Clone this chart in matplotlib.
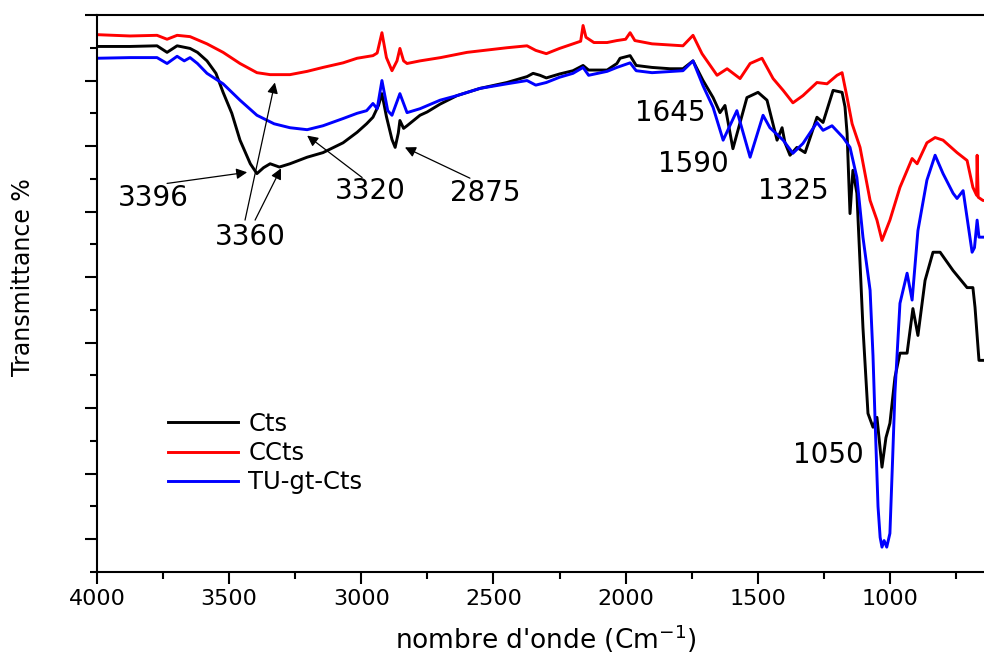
import matplotlib.pyplot as plt
from matplotlib.ticker import MultipleLocator

# nombre d'onde (cm-1) et transmittance (u.a.)
wn_cts = [4000, 3875, 3773, 3735, 3697, 3648, 3620, 3584, 3550, 3523, 3490, 3459,
          3420, 3395, 3370, 3345, 3310, 3270, 3205, 3145, 3069, 3016, 2980, 2956,
          2935, 2922, 2905, 2884, 2872, 2860, 2854, 2840, 2827, 2778, 2751, 2702,
          2638, 2551, 2449, 2373, 2350, 2324, 2300, 2250, 2199, 2161, 2140, 2070,
          2033, 2021, 1983, 1960, 1900, 1832, 1783, 1745, 1707, 1669, 1643, 1624,
          1594, 1575, 1541, 1499, 1465, 1427, 1408, 1397, 1378, 1352, 1321, 1300,
          1276, 1253, 1215, 1181, 1170, 1162, 1151, 1140, 1125, 1102, 1083, 1064,
          1049, 1030, 1015, 1000, 981, 962, 935, 913, 894, 867, 837, 810, 761, 708,
          686, 678, 663, 648, 640]
t_cts = [85.2, 85.2, 85.3, 84.3, 85.3, 84.9, 84.3, 83.0, 81.1, 78.2, 75.0, 70.9,
         67.3, 65.8, 66.7, 67.3, 66.8, 67.3, 68.3, 69.0, 70.5, 72.1, 73.4, 74.4,
         76.2, 78.0, 74.5, 71.0, 69.8, 72.0, 73.9, 72.7, 73.1, 74.7, 75.2, 76.4,
         77.7, 78.8, 79.7, 80.6, 81.1, 80.8, 80.4, 81.0, 81.5, 82.3, 81.6, 81.6,
         82.6, 83.4, 83.8, 82.3, 82.0, 81.8, 81.8, 83.0, 80.0, 77.4, 75.1, 76.2,
         69.6, 72.4, 77.4, 78.2, 77.0, 70.9, 72.8, 70.5, 68.6, 69.8, 69.0, 71.5,
         74.4, 73.6, 78.5, 78.2, 76.0, 71.9, 59.7, 66.3, 62.8, 42.3, 29.2, 27.1,
         28.6, 21.0, 25.5, 27.7, 34.7, 38.4, 38.4, 45.2, 41.1, 49.5, 53.8, 53.8,
         51.0, 48.4, 48.4, 45.4, 37.3, 37.3, 37.3]

wn_ccts = [4000, 3875, 3773, 3735, 3697, 3648, 3584, 3523, 3459, 3395, 3345, 3270,
           3205, 3145, 3069, 3016, 2956, 2940, 2922, 2905, 2884, 2865, 2854, 2840,
           2827, 2778, 2700, 2600, 2450, 2373, 2340, 2300, 2250, 2199, 2170, 2161,
           2150, 2120, 2070, 2033, 2000, 1983, 1965, 1900, 1783, 1745, 1711, 1654,
           1616, 1567, 1529, 1484, 1442, 1404, 1367, 1329, 1276, 1238, 1200, 1181,
           1162, 1143, 1113, 1075, 1049, 1030, 1000, 962, 916, 897, 860, 829, 799,
           746, 708, 686, 672, 670, 666, 648, 640]
t_ccts = [87.0, 86.8, 86.9, 86.3, 86.9, 86.7, 85.6, 84.3, 82.6, 81.2, 80.9, 80.9,
          81.4, 82.0, 82.7, 83.4, 83.8, 84.2, 87.3, 83.5, 81.5, 83.0, 84.9, 83.0,
          82.6, 83.0, 83.5, 84.3, 85.0, 85.3, 84.6, 84.1, 84.9, 85.6, 86.0, 88.4,
          86.6, 85.8, 85.8, 86.1, 86.3, 87.3, 86.1, 85.6, 85.3, 86.9, 84.1, 80.8,
          81.8, 80.3, 82.6, 83.4, 80.3, 78.5, 76.6, 77.7, 79.7, 79.5, 80.8, 81.2,
          77.4, 73.4, 69.8, 61.7, 58.7, 55.6, 58.7, 63.7, 68.1, 67.3, 70.5, 71.3,
          70.9, 69.0, 67.8, 63.7, 62.5, 68.6, 62.2, 61.7, 61.7]

wn_tu = [4000, 3875, 3773, 3735, 3697, 3670, 3648, 3620, 3584, 3523, 3459, 3395,
         3330, 3270, 3205, 3145, 3069, 3016, 2980, 2956, 2940, 2922, 2900, 2884,
         2854, 2827, 2778, 2702, 2638, 2551, 2449, 2373, 2340, 2300, 2250, 2199,
         2161, 2140, 2070, 2033, 1983, 1960, 1900, 1783, 1745, 1707, 1669, 1631,
         1579, 1529, 1480, 1454, 1404, 1367, 1329, 1276, 1253, 1219, 1177, 1151,
         1125, 1102, 1075, 1064, 1056, 1045, 1037, 1030, 1022, 1012, 1000, 990,
         981, 962, 935, 916, 894, 860, 829, 799, 761, 746, 723, 689, 680, 670,
         663, 648, 640]
t_tu = [83.4, 83.5, 83.5, 82.6, 83.7, 83.0, 83.5, 82.6, 81.1, 79.5, 77.0, 74.7,
        73.4, 72.8, 72.5, 73.1, 74.2, 75.0, 75.4, 76.5, 75.7, 80.0, 75.4, 74.7,
        78.0, 75.1, 75.7, 77.0, 77.7, 78.8, 79.5, 80.0, 79.3, 79.7, 80.5, 81.1,
        82.0, 80.8, 81.4, 82.0, 82.7, 81.5, 81.2, 81.5, 83.0, 79.2, 75.9, 70.9,
        75.4, 68.3, 74.7, 72.8, 70.9, 68.9, 70.4, 73.6, 72.4, 73.1, 71.3, 69.8,
        65.2, 56.1, 48.0, 38.0, 28.0, 15.0, 10.3, 8.8, 9.8, 8.8, 10.9, 22.0,
        32.3, 46.0, 50.6, 46.5, 57.1, 64.8, 68.6, 65.8, 62.8, 62.0, 63.2, 53.8,
        54.5, 58.7, 56.1, 56.1, 56.1]

fig = plt.figure(figsize=(9.84, 6.61), dpi=100)
ax = fig.add_axes([0.0986, 0.1346, 0.9014, 0.8427])

ax.plot(wn_cts, t_cts, color='black', lw=2.1, label='Cts')
ax.plot(wn_ccts, t_ccts, color='red', lw=2.1, label='CCts')
ax.plot(wn_tu, t_tu, color='blue', lw=2.1, label='TU-gt-Cts')

ax.set_xlim(4000, 644)
ax.set_ylim(5, 90)

# axes style Origin
ax.spines['right'].set_visible(False)
for s in ['left', 'bottom', 'top']:
    ax.spines[s].set_linewidth(1.5)
ax.xaxis.set_major_locator(MultipleLocator(500))
ax.xaxis.set_minor_locator(MultipleLocator(250))
ax.yaxis.set_major_locator(MultipleLocator(10))
ax.yaxis.set_minor_locator(MultipleLocator(5))
ax.tick_params(which='both', direction='out', width=1.5, top=False, right=False)
ax.tick_params(which='major', length=8.5)
ax.tick_params(which='minor', length=5)
ax.tick_params(axis='x', labelsize=16, pad=4)
ax.set_yticklabels([])

fig.text(0.555, 0.018, "nombre d'onde (Cm$^{-1}$)", fontsize=19,
         ha='center', va='baseline')
fig.text(0.023, 0.581, 'Transmittance %', fontsize=17, rotation=90,
         ha='center', va='center')

leg = ax.legend(loc='center left', bbox_to_anchor=(0.080, 0.2136), frameon=False,
                fontsize=17.5, handlelength=2.9, handletextpad=0.4,
                labelspacing=0.22, borderpad=0, borderaxespad=0)

# annotations des bandes
arr = dict(arrowstyle='-|>', color='black', lw=0.9, mutation_scale=16,
           shrinkA=0, shrinkB=0)
ax.text(3788, 62.0, '3396', fontsize=20, ha='center', va='center')
ax.annotate('', xy=(3432, 66.0), xytext=(3735, 64.3), arrowprops=arr)
ax.text(3421, 56.1, '3360', fontsize=20, ha='center', va='center')
ax.annotate('', xy=(3327, 79.7), xytext=(3440, 58.7), arrowprops=arr)
ax.annotate('', xy=(3304, 66.6), xytext=(3402, 58.7), arrowprops=arr)
ax.text(2967, 63.2, '3320', fontsize=20, ha='center', va='center')
ax.annotate('', xy=(3205, 71.6), xytext=(2997, 65.2), arrowprops=arr)
ax.text(2532, 62.8, '2875', fontsize=20, ha='center', va='center')
ax.annotate('', xy=(2835, 69.8), xytext=(2589, 65.1), arrowprops=arr)
ax.text(1832, 75.0, '1645', fontsize=20, ha='center', va='center')
ax.text(1745, 67.3, '1590', fontsize=20, ha='center', va='center')
ax.text(1367, 63.2, '1325', fontsize=20, ha='center', va='center')
ax.text(1234, 22.8, '1050', fontsize=20, ha='center', va='center')

fig.savefig('out.png', dpi=100)
